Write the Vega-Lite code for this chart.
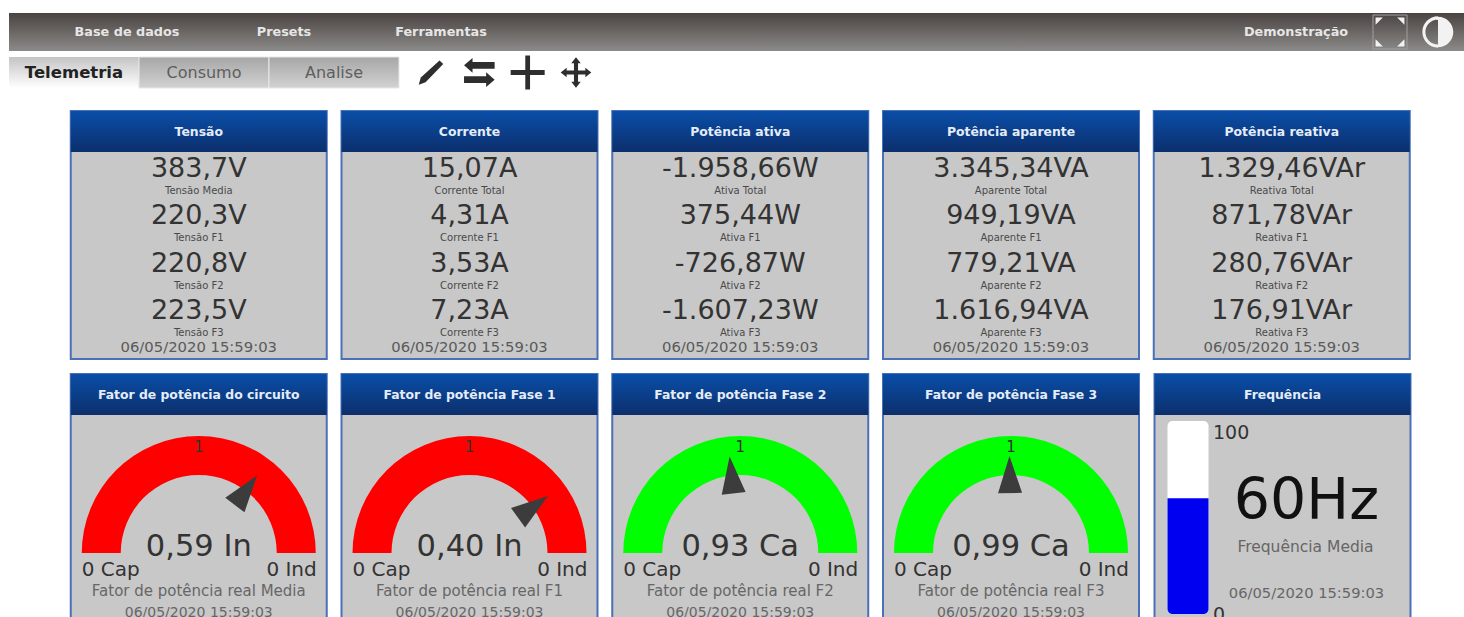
{"$schema":"https://vega.github.io/schema/vega-lite/v6.json","background":"#ffffff","padding":{"top":13,"left":9,"right":0,"bottom":0},"config":{"view":{"stroke":null},"font":"DejaVu Sans"},"datasets":{"menu":[{"item":"Base de dados"},{"item":"Presets"},{"item":"Ferramentas"}],"user":[{"item":"Demonstração"}],"winIcons":[{"icon":"expandir"},{"icon":"contraste"}],"tabs":[{"tab":"Telemetria","active":true},{"tab":"Consumo","active":false},{"tab":"Analise","active":false}],"tools":[{"icon":"editar"},{"icon":"trocar"},{"icon":"adicionar"},{"icon":"mover"}],"cards":[{"card":"Tensão","slot":"total","value":"383,7V","label":"Tensão Media","time":"06/05/2020 15:59:03"},{"card":"Tensão","slot":"f1","value":"220,3V","label":"Tensão F1","time":"06/05/2020 15:59:03"},{"card":"Tensão","slot":"f2","value":"220,8V","label":"Tensão F2","time":"06/05/2020 15:59:03"},{"card":"Tensão","slot":"f3","value":"223,5V","label":"Tensão F3","time":"06/05/2020 15:59:03"},{"card":"Corrente","slot":"total","value":"15,07A","label":"Corrente Total","time":"06/05/2020 15:59:03"},{"card":"Corrente","slot":"f1","value":"4,31A","label":"Corrente F1","time":"06/05/2020 15:59:03"},{"card":"Corrente","slot":"f2","value":"3,53A","label":"Corrente F2","time":"06/05/2020 15:59:03"},{"card":"Corrente","slot":"f3","value":"7,23A","label":"Corrente F3","time":"06/05/2020 15:59:03"},{"card":"Potência ativa","slot":"total","value":"-1.958,66W","label":"Ativa Total","time":"06/05/2020 15:59:03"},{"card":"Potência ativa","slot":"f1","value":"375,44W","label":"Ativa F1","time":"06/05/2020 15:59:03"},{"card":"Potência ativa","slot":"f2","value":"-726,87W","label":"Ativa F2","time":"06/05/2020 15:59:03"},{"card":"Potência ativa","slot":"f3","value":"-1.607,23W","label":"Ativa F3","time":"06/05/2020 15:59:03"},{"card":"Potência aparente","slot":"total","value":"3.345,34VA","label":"Aparente Total","time":"06/05/2020 15:59:03"},{"card":"Potência aparente","slot":"f1","value":"949,19VA","label":"Aparente F1","time":"06/05/2020 15:59:03"},{"card":"Potência aparente","slot":"f2","value":"779,21VA","label":"Aparente F2","time":"06/05/2020 15:59:03"},{"card":"Potência aparente","slot":"f3","value":"1.616,94VA","label":"Aparente F3","time":"06/05/2020 15:59:03"},{"card":"Potência reativa","slot":"total","value":"1.329,46VAr","label":"Reativa Total","time":"06/05/2020 15:59:03"},{"card":"Potência reativa","slot":"f1","value":"871,78VAr","label":"Reativa F1","time":"06/05/2020 15:59:03"},{"card":"Potência reativa","slot":"f2","value":"280,76VAr","label":"Reativa F2","time":"06/05/2020 15:59:03"},{"card":"Potência reativa","slot":"f3","value":"176,91VAr","label":"Reativa F3","time":"06/05/2020 15:59:03"}],"gauges":[{"card":"Fator de potência do circuito","reading":"0,59 In","pf":0.59,"needle":37,"state":"fora","label":"Fator de potência real Media","time":"06/05/2020 15:59:03","left":"0 Cap","right":"0 Ind","top":"1"},{"card":"Fator de potência Fase 1","reading":"0,40 In","pf":0.40,"needle":54,"state":"fora","label":"Fator de potência real F1","time":"06/05/2020 15:59:03","left":"0 Cap","right":"0 Ind","top":"1"},{"card":"Fator de potência Fase 2","reading":"0,93 Ca","pf":0.93,"needle":-6.3,"state":"ok","label":"Fator de potência real F2","time":"06/05/2020 15:59:03","left":"0 Cap","right":"0 Ind","top":"1"},{"card":"Fator de potência Fase 3","reading":"0,99 Ca","pf":0.99,"needle":-0.9,"state":"ok","label":"Fator de potência real F3","time":"06/05/2020 15:59:03","left":"0 Cap","right":"0 Ind","top":"1"}],"freq":[{"card":"Frequência","gauge":"freq","value":60,"max":100,"min":0,"reading":"60Hz","label":"Frequência Media","time":"06/05/2020 15:59:03"}]},"vconcat":[{"spacing":0,"vconcat":[{"width":1455,"height":38,"view":{"stroke":null,"fill":{"gradient":"linear","x1":0,"y1":0,"x2":0,"y2":1,"stops":[{"offset":0,"color":"#4a4341"},{"offset":1,"color":"#8c8b89"}]}},"resolve":{"scale":{"x":"independent"}},"layer":[{"data":{"name":"menu"},"mark":{"type":"text","fontWeight":"bold","fontSize":12.8,"color":"#e6e6e6"},"encoding":{"x":{"field":"item","type":"nominal","sort":null,"axis":null,"scale":{"type":"point","domain":["Base de dados","Presets","Ferramentas"],"range":[118,432],"padding":0}},"text":{"field":"item"}}},{"data":{"name":"user"},"mark":{"type":"text","fontWeight":"bold","fontSize":12.8,"color":"#e6e6e6"},"encoding":{"x":{"field":"item","type":"nominal","axis":null,"scale":{"type":"point","domain":["Demonstração"],"range":[1287,1287],"padding":0}},"text":{"field":"item"}}},{"data":{"name":"winIcons"},"transform":[{"filter":"datum.icon==='expandir'"}],"mark":{"type":"point","shape":"square","filled":false,"stroke":"#a0a0a0","strokeWidth":1,"size":1156,"opacity":1},"encoding":{"x":{"field":"icon","type":"nominal","axis":null,"scale":{"type":"point","domain":["expandir","contraste"],"range":[1381,1429],"padding":0}}}},{"data":{"name":"winIcons"},"mark":{"type":"point","filled":true,"fill":"#f2f2f2","stroke":null,"size":1156,"opacity":1},"encoding":{"x":{"field":"icon","type":"nominal","axis":null,"scale":{"type":"point","domain":["expandir","contraste"],"range":[1381,1429],"padding":0}},"shape":{"field":"icon","type":"nominal","legend":null,"scale":{"domain":["expandir","contraste","editar","trocar","adicionar","mover"],"range":["M-.85 -.85L-.42 -.85L-.85 -.42ZM.85 -.85L.42 -.85L.85 -.42ZM-.85 .85L-.42 .85L-.85 .42ZM.85 .85L.42 .85L.85 .42Z","M0 -.9A.9 .9 0 0 1 0 .9ZM0 -.92A.92 .92 0 0 0 0 .92L0 .74A.74 .74 0 0 1 0 -.74Z","M-.72 .72L-.6 .3L.5 -.7L.72 -.5L-.32 .58Z","M-.9 -.42L-.4 -.85L-.4 -.62L.9 -.62L.9 -.22L-.4 -.22L-.4 .02ZM.9 .42L.4 -.02L.4 .22L-.9 .22L-.9 .62L.4 .62L.4 .85Z","M-.14 -1L.14 -1L.14 -.14L1 -.14L1 .14L.14 .14L.14 1L-.14 1L-.14 .14L-1 .14L-1 -.14L-.14 -.14Z","M0 -.9L.28 -.55L.12 -.55L.12 -.12L.55 -.12L.55 -.28L.9 0L.55 .28L.55 .12L.12 .12L.12 .55L.28 .55L0 .9L-.28 .55L-.12 .55L-.12 .12L-.55 .12L-.55 .28L-.9 0L-.55 -.28L-.55 -.12L-.12 -.12L-.12 -.55L-.28 -.55Z"]}}}}]},{"width":1455,"height":46,"resolve":{"scale":{"x":"independent"}},"data":{"name":"tabs"},"layer":[{"transform":[{"filter":"datum.active"}],"mark":{"type":"rect","fill":{"gradient":"linear","x1":0,"y1":0,"x2":0,"y2":1,"stops":[{"offset":0,"color":"#c4c4c4"},{"offset":1,"color":"#ffffff"}]}},"encoding":{"x":{"field":"tab","type":"nominal","sort":null,"axis":null,"scale":{"type":"band","domain":["Telemetria","Consumo","Analise"],"range":[0,390],"paddingInner":0,"paddingOuter":0}},"y":{"datum":"aba","type":"nominal","axis":null,"scale":{"type":"band","domain":["aba"],"range":[6,37],"paddingInner":0,"paddingOuter":0}}}},{"transform":[{"filter":"!datum.active"}],"mark":{"type":"rect","stroke":"#e8e8e8","strokeWidth":1,"fill":{"gradient":"linear","x1":0,"y1":0,"x2":0,"y2":1,"stops":[{"offset":0,"color":"#a6a6a6"},{"offset":1,"color":"#d2d2d2"}]}},"encoding":{"x":{"field":"tab","type":"nominal","sort":null,"axis":null,"scale":{"type":"band","domain":["Telemetria","Consumo","Analise"],"range":[0,390],"paddingInner":0,"paddingOuter":0}},"y":{"datum":"aba","type":"nominal","axis":null,"scale":{"type":"band","domain":["aba"],"range":[6,37],"paddingInner":0,"paddingOuter":0}}}},{"transform":[{"filter":"datum.active"}],"mark":{"type":"text","fontSize":16.5,"fontWeight":"bold","color":"#222222"},"encoding":{"x":{"field":"tab","type":"nominal","sort":null,"axis":null,"scale":{"type":"band","domain":["Telemetria","Consumo","Analise"],"range":[0,390],"paddingInner":0,"paddingOuter":0}},"y":{"datum":"aba","type":"nominal","axis":null,"scale":{"type":"band","domain":["aba"],"range":[6,37],"paddingInner":0,"paddingOuter":0}},"text":{"field":"tab"}}},{"transform":[{"filter":"!datum.active"}],"mark":{"type":"text","fontSize":16,"color":"#5e5e5e"},"encoding":{"x":{"field":"tab","type":"nominal","sort":null,"axis":null,"scale":{"type":"band","domain":["Telemetria","Consumo","Analise"],"range":[0,390],"paddingInner":0,"paddingOuter":0}},"y":{"datum":"aba","type":"nominal","axis":null,"scale":{"type":"band","domain":["aba"],"range":[6,37],"paddingInner":0,"paddingOuter":0}},"text":{"field":"tab"}}},{"data":{"name":"tools"},"mark":{"type":"point","filled":true,"fill":"#2e2e2e","stroke":null,"size":1156,"opacity":1},"encoding":{"x":{"field":"icon","type":"nominal","sort":null,"axis":null,"scale":{"type":"point","domain":["editar","trocar","adicionar","mover"],"range":[422,567],"padding":0}},"y":{"datum":"aba","type":"nominal","axis":null,"scale":{"type":"band","domain":["aba"],"range":[6,37],"paddingInner":0,"paddingOuter":0}},"shape":{"field":"icon","type":"nominal","legend":null,"scale":{"domain":["expandir","contraste","editar","trocar","adicionar","mover"],"range":["M-.85 -.85L-.42 -.85L-.85 -.42ZM.85 -.85L.42 -.85L.85 -.42ZM-.85 .85L-.42 .85L-.85 .42ZM.85 .85L.42 .85L.85 .42Z","M0 -.9A.9 .9 0 0 1 0 .9ZM0 -.92A.92 .92 0 0 0 0 .92L0 .74A.74 .74 0 0 1 0 -.74Z","M-.72 .72L-.6 .3L.5 -.7L.72 -.5L-.32 .58Z","M-.9 -.42L-.4 -.85L-.4 -.62L.9 -.62L.9 -.22L-.4 -.22L-.4 .02ZM.9 .42L.4 -.02L.4 .22L-.9 .22L-.9 .62L.4 .62L.4 .85Z","M-.14 -1L.14 -1L.14 -.14L1 -.14L1 .14L.14 .14L.14 1L-.14 1L-.14 .14L-1 .14L-1 -.14L-.14 -.14Z","M0 -.9L.28 -.55L.12 -.55L.12 -.12L.55 -.12L.55 -.28L.9 0L.55 .28L.55 .12L.12 .12L.12 .55L.28 .55L0 .9L-.28 .55L-.12 .55L-.12 .12L-.55 .12L-.55 .28L-.9 0L-.55 -.28L-.55 -.12L-.12 -.12L-.12 -.55L-.28 -.55Z"]}}}}]}]},{"spacing":12.75,"hconcat":[{"width":47.5,"height":10,"data":{"values":[{}]},"mark":{"type":"point","opacity":0},"encoding":{}},{"data":{"name":"cards"},"spacing":12.75,"facet":{"column":{"field":"card","type":"nominal","header":null,"sort":["Tensão","Corrente","Potência ativa","Potência aparente","Potência reativa"]}},"spec":{"width":256,"height":248,"view":{"fill":"#c8c8c8","stroke":"#4a71b8","strokeWidth":2},"resolve":{"scale":{"y":"independent"}},"layer":[{"transform":[{"filter":"datum.slot==='total'"}],"mark":{"type":"rect","fill":{"gradient":"linear","x1":0,"y1":0,"x2":0,"y2":1,"stops":[{"offset":0,"color":"#0a4ea8"},{"offset":1,"color":"#0c2f6c"}]}},"encoding":{"y":{"datum":"cab","type":"nominal","axis":null,"scale":{"type":"band","domain":["cab"],"range":[0,41],"paddingInner":0,"paddingOuter":0}}}},{"transform":[{"filter":"datum.slot==='total'"}],"mark":{"type":"text","color":"#e4ecf8","fontWeight":"bold","fontSize":12.4},"encoding":{"y":{"datum":"cab","type":"nominal","axis":null,"scale":{"type":"band","domain":["cab"],"range":[0,41],"paddingInner":0,"paddingOuter":0}},"text":{"field":"card"}}},{"mark":{"type":"text","fontSize":27,"color":"#333333"},"encoding":{"y":{"field":"slot","type":"nominal","axis":null,"scale":{"type":"point","domain":["total","f1","f2","f3"],"range":[58,200],"padding":0}},"text":{"field":"value"}}},{"mark":{"type":"text","fontSize":10,"color":"#4a4a4a","dy":22},"encoding":{"y":{"field":"slot","type":"nominal","axis":null,"scale":{"type":"point","domain":["total","f1","f2","f3"],"range":[58,200],"padding":0}},"text":{"field":"label"}}},{"transform":[{"filter":"datum.slot==='f3'"}],"mark":{"type":"text","fontSize":14.8,"color":"#5a5a5a","dy":37},"encoding":{"y":{"field":"slot","type":"nominal","axis":null,"scale":{"type":"point","domain":["total","f1","f2","f3"],"range":[58,200],"padding":0}},"text":{"field":"time"}}}]}}]},{"spacing":12.75,"hconcat":[{"width":47.5,"height":10,"data":{"values":[{}]},"mark":{"type":"point","opacity":0},"encoding":{}},{"data":{"name":"gauges"},"spacing":12.75,"facet":{"column":{"field":"card","type":"nominal","header":null,"sort":["Fator de potência do circuito","Fator de potência Fase 1","Fator de potência Fase 2","Fator de potência Fase 3"]}},"spec":{"width":256,"height":246,"view":{"fill":"#c8c8c8","stroke":"#4a71b8","strokeWidth":2},"resolve":{"scale":{"y":"independent"}},"layer":[{"mark":{"type":"rect","fill":{"gradient":"linear","x1":0,"y1":0,"x2":0,"y2":1,"stops":[{"offset":0,"color":"#0a4ea8"},{"offset":1,"color":"#0c2f6c"}]}},"encoding":{"y":{"datum":"cab","type":"nominal","axis":null,"scale":{"type":"band","domain":["cab"],"range":[0,41],"paddingInner":0,"paddingOuter":0}}}},{"mark":{"type":"text","color":"#e4ecf8","fontWeight":"bold","fontSize":12.4},"encoding":{"y":{"datum":"cab","type":"nominal","axis":null,"scale":{"type":"band","domain":["cab"],"range":[0,41],"paddingInner":0,"paddingOuter":0}},"text":{"field":"card"}}},{"mark":{"type":"arc","theta":-1.5708,"theta2":1.5708,"radius":117,"radius2":78},"encoding":{"y":{"datum":"pivo","type":"nominal","axis":null,"scale":{"type":"point","domain":["pivo"],"range":[179,179],"padding":0}},"fill":{"field":"state","type":"nominal","legend":null,"scale":{"domain":["fora","ok"],"range":["#ff0000","#00ff00"]}}}},{"mark":{"type":"point","filled":true,"fill":"#3c3c3c","stroke":null,"size":40000,"opacity":1,"shape":"M-.12 -.6L0 -.97L.12 -.6Z"},"encoding":{"y":{"datum":"pivo","type":"nominal","axis":null,"scale":{"type":"point","domain":["pivo"],"range":[179,179],"padding":0}},"angle":{"field":"needle","type":"quantitative","scale":null}}},{"mark":{"type":"text","fontSize":15,"color":"#333333","dy":-106},"encoding":{"y":{"datum":"pivo","type":"nominal","axis":null,"scale":{"type":"point","domain":["pivo"],"range":[179,179],"padding":0}},"text":{"field":"top"}}},{"mark":{"type":"text","fontSize":30.5,"color":"#333333","dy":-6},"encoding":{"y":{"datum":"pivo","type":"nominal","axis":null,"scale":{"type":"point","domain":["pivo"],"range":[179,179],"padding":0}},"text":{"field":"reading"}}},{"mark":{"type":"text","fontSize":20,"color":"#333333","dy":17,"dx":-117,"align":"left"},"encoding":{"y":{"datum":"pivo","type":"nominal","axis":null,"scale":{"type":"point","domain":["pivo"],"range":[179,179],"padding":0}},"text":{"field":"left"}}},{"mark":{"type":"text","fontSize":20,"color":"#333333","dy":17,"dx":118,"align":"right"},"encoding":{"y":{"datum":"pivo","type":"nominal","axis":null,"scale":{"type":"point","domain":["pivo"],"range":[179,179],"padding":0}},"text":{"field":"right"}}},{"mark":{"type":"text","fontSize":15,"color":"#666666","dy":38},"encoding":{"y":{"datum":"pivo","type":"nominal","axis":null,"scale":{"type":"point","domain":["pivo"],"range":[179,179],"padding":0}},"text":{"field":"label"}}},{"mark":{"type":"text","fontSize":14,"color":"#666666","dy":60},"encoding":{"y":{"datum":"pivo","type":"nominal","axis":null,"scale":{"type":"point","domain":["pivo"],"range":[179,179],"padding":0}},"text":{"field":"time"}}}]}},{"data":{"name":"freq"},"width":256,"height":246,"view":{"fill":"#c8c8c8","stroke":"#4a71b8","strokeWidth":2},"resolve":{"scale":{"y":"independent"}},"layer":[{"mark":{"type":"rect","fill":{"gradient":"linear","x1":0,"y1":0,"x2":0,"y2":1,"stops":[{"offset":0,"color":"#0a4ea8"},{"offset":1,"color":"#0c2f6c"}]}},"encoding":{"y":{"datum":"cab","type":"nominal","axis":null,"scale":{"type":"band","domain":["cab"],"range":[0,41],"paddingInner":0,"paddingOuter":0}}}},{"mark":{"type":"text","color":"#e4ecf8","fontWeight":"bold","fontSize":12.4},"encoding":{"y":{"datum":"cab","type":"nominal","axis":null,"scale":{"type":"band","domain":["cab"],"range":[0,41],"paddingInner":0,"paddingOuter":0}},"text":{"field":"card"}}},{"mark":{"type":"bar","color":"#ffffff","cornerRadius":5},"encoding":{"x":{"field":"gauge","type":"nominal","axis":null,"scale":{"type":"band","domain":["freq"],"range":[13,54],"paddingInner":0,"paddingOuter":0}},"y":{"field":"max","type":"quantitative","axis":null,"stack":null,"scale":{"domain":[0,100],"range":[240,47]}}}},{"mark":{"type":"bar","color":"#0000f0","cornerRadiusBottomLeft":5,"cornerRadiusBottomRight":5},"encoding":{"x":{"field":"gauge","type":"nominal","axis":null,"scale":{"type":"band","domain":["freq"],"range":[13,54],"paddingInner":0,"paddingOuter":0}},"y":{"field":"value","type":"quantitative","axis":null,"stack":null,"scale":{"domain":[0,100],"range":[240,47]}}}},{"mark":{"type":"text","fontSize":19,"color":"#333333","align":"left","dx":25,"dy":12},"encoding":{"x":{"field":"gauge","type":"nominal","axis":null,"scale":{"type":"band","domain":["freq"],"range":[13,54],"paddingInner":0,"paddingOuter":0}},"y":{"field":"max","type":"quantitative","axis":null,"scale":{"domain":[0,100],"range":[240,47]}},"text":{"field":"max"}}},{"mark":{"type":"text","fontSize":19,"color":"#333333","align":"left","dx":25,"dy":1},"encoding":{"x":{"field":"gauge","type":"nominal","axis":null,"scale":{"type":"band","domain":["freq"],"range":[13,54],"paddingInner":0,"paddingOuter":0}},"y":{"field":"min","type":"quantitative","axis":null,"scale":{"domain":[0,100],"range":[240,47]}},"text":{"field":"min"}}},{"mark":{"type":"text","fontSize":57,"color":"#111111","dx":24,"dy":4},"encoding":{"y":{"field":"value","type":"quantitative","axis":null,"scale":{"domain":[0,100],"range":[240,47]}},"text":{"field":"reading"}}},{"mark":{"type":"text","fontSize":15.5,"color":"#666666","dx":23,"dy":49},"encoding":{"y":{"field":"value","type":"quantitative","axis":null,"scale":{"domain":[0,100],"range":[240,47]}},"text":{"field":"label"}}},{"mark":{"type":"text","fontSize":14.7,"color":"#666666","dx":24,"dy":96},"encoding":{"y":{"field":"value","type":"quantitative","axis":null,"scale":{"domain":[0,100],"range":[240,47]}},"text":{"field":"time"}}}]}]}],"spacing":13}
